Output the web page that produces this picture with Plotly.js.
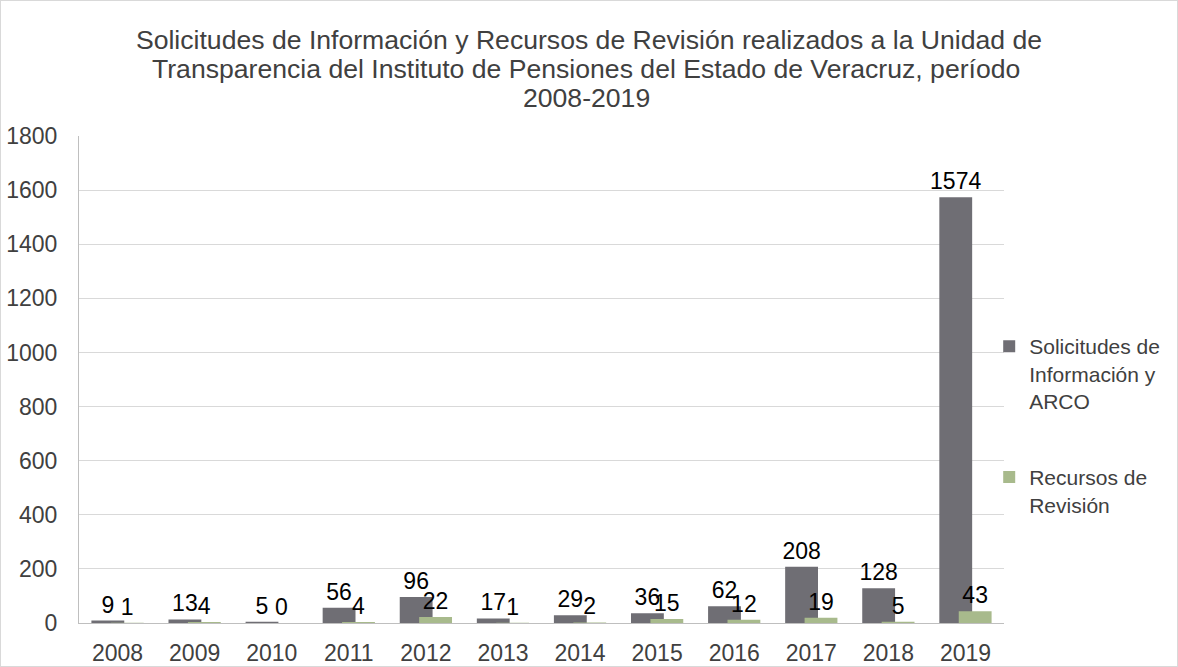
<!DOCTYPE html>
<html>
<head>
<meta charset="utf-8">
<script src="https://cdn.plot.ly/plotly-3.0.1.min.js"></script>
<style>
  html, body { margin: 0; padding: 0; background: #fff; }
  #chart { width: 1178px; height: 667px; box-sizing: border-box; border: 1px solid #d9d9d9; }
</style>
</head>
<body>
<div id="chart"></div>
<script>
const years = ['2008','2009','2010','2011','2012','2013','2014','2015','2016','2017','2018','2019'];
const solicitudes = [9, 13, 5, 56, 96, 17, 29, 36, 62, 208, 128, 1574];
const recursos = [1, 4, 0, 4, 22, 1, 2, 15, 12, 19, 5, 43];
const seriesNames = ['Solicitudes de<br>Información y<br>ARCO', 'Recursos de<br>Revisión'];
const yTicks = [0, 200, 400, 600, 800, 1000, 1200, 1400, 1600, 1800];
const titleLines = [
  'Solicitudes de Información y Recursos de Revisión realizados a la Unidad de',
  'Transparencia del Instituto de Pensiones del Estado de Veracruz, período',
  '2008-2019'
];

const FONT = 'Liberation Sans, Arial, sans-serif';
const barW = 0.426;
const W = 1176, H = 665;
const M = { l: 78, r: 168, t: 135, b: 43 };
const plotW = W - M.l - M.r, plotH = H - M.t - M.b;
const pageCenterX = (588 - M.l) / plotW;
const pyToPaper = py => (H - M.b - py) / plotH;

const traces = [
  {
    type: 'bar', x: years, y: solicitudes, name: seriesNames[0],
    legendgroup: 'a',
    marker: { color: '#6f6e74' },
    width: barW, offset: -0.339,
    text: solicitudes.map(String), textposition: 'outside', constraintext: 'none',
    textfont: { family: FONT, size: 23, color: '#000' },
    cliponaxis: false, hoverinfo: 'x+y'
  },
  {
    type: 'bar', x: years, y: recursos, name: seriesNames[1],
    legendgroup: 'b',
    marker: { color: '#a8ba8c' },
    width: barW, offset: -0.087,
    text: recursos.map(String), textposition: 'outside', constraintext: 'none',
    textfont: { family: FONT, size: 23, color: '#000' },
    cliponaxis: false, hoverinfo: 'x+y'
  }
];

const titleFont = { family: FONT, size: 26.6, color: '#404040' };

const layout = {
  width: W, height: H,
  margin: M,
  paper_bgcolor: '#fff', plot_bgcolor: '#fff',
  barmode: 'overlay',
  font: { family: FONT, size: 23, color: '#404040' },
  title: {
    text: titleLines[0],
    font: titleFont,
    x: 0.5, xref: 'container', xanchor: 'center',
    y: 1 - 39/H, yref: 'container', yanchor: 'middle'
  },
  annotations: [
    { text: titleLines[1], xref: 'paper', yref: 'paper', x: pageCenterX, y: pyToPaper(68),
      xanchor: 'center', yanchor: 'middle', showarrow: false, font: titleFont },
    { text: titleLines[2], xref: 'paper', yref: 'paper', x: pageCenterX, y: pyToPaper(97),
      xanchor: 'center', yanchor: 'middle', showarrow: false, font: titleFont }
  ],
  xaxis: {
    type: 'category', categoryarray: years,
    showgrid: false, zeroline: false,
    showline: true, linecolor: '#bfbfbf', linewidth: 1,
    ticks: 'outside', ticklen: 9, tickcolor: 'rgba(0,0,0,0)',
    tickfont: { family: FONT, size: 23, color: '#404040' },
    fixedrange: true
  },
  yaxis: {
    range: [0, 1800], tickvals: yTicks,
    showgrid: true, gridcolor: '#d9d9d9', gridwidth: 1,
    zeroline: false,
    showline: true, linecolor: '#bfbfbf', linewidth: 1,
    ticks: 'outside', ticklen: 16, tickcolor: 'rgba(0,0,0,0)',
    tickfont: { family: FONT, size: 23, color: '#404040' },
    fixedrange: true
  },
  showlegend: true,
  legend: {
    x: 0.984, xanchor: 'left', y: pyToPaper(325), yanchor: 'top',
    font: { family: FONT, size: 21, color: '#404040' },
    valign: 'top', tracegroupgap: 46, bgcolor: 'rgba(0,0,0,0)'
  }
};

Plotly.newPlot('chart', traces, layout, { displayModeBar: false, staticPlot: true });
</script>
</body>
</html>
